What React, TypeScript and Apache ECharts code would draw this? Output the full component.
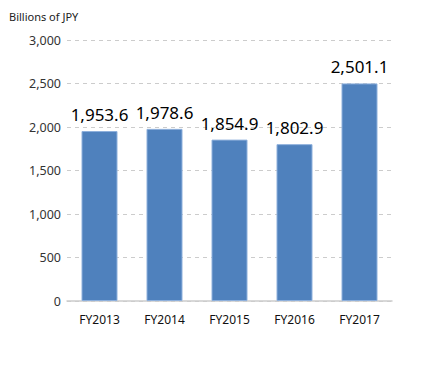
import React, { useEffect, useRef } from "react";
import * as echarts from "echarts";

const categories = ["FY2013", "FY2014", "FY2015", "FY2016", "FY2017"];
const values = [1953.6, 1978.6, 1854.9, 1802.9, 2501.1];
const unitLabel = "Billions of JPY";

const fmt = (v: number, d: number) =>
  v.toLocaleString("en-US", { minimumFractionDigits: d, maximumFractionDigits: d });

export default function App() {
  const ref = useRef<HTMLDivElement>(null);
  useEffect(() => {
    const chart = echarts.init(ref.current!, null, { renderer: "svg" });
    chart.setOption({
      animation: false,
      textStyle: { fontFamily: "Noto Sans" },
      graphic: [
        {
          type: "text",
          left: 9,
          top: 11,
          style: { text: unitLabel, fontSize: 11, fill: "#222", fontFamily: "Noto Sans" },
        },
      ],
      grid: { left: 67, right: 38, top: 40, bottom: 79 },
      xAxis: {
        type: "category",
        data: categories,
        axisLine: { lineStyle: { color: "#ccc", width: 1.5 } },
        axisTick: { show: false },
        axisLabel: { color: "#111", fontSize: 12, margin: 12 },
      },
      yAxis: {
        type: "value",
        min: 0,
        max: 3000,
        interval: 500,
        axisLine: { show: false },
        axisTick: { show: false },
        axisLabel: { color: "#333", fontSize: 12.5, margin: 6, formatter: (v: number) => fmt(v, 0) },
        splitLine: { lineStyle: { color: "#ccc", type: [4, 4] } },
      },
      series: [
        {
          type: "bar",
          data: values,
          barWidth: 36,
          itemStyle: { color: "#4f81bd", borderColor: "#8eb0dc", borderWidth: 1 },
          label: {
            show: true,
            position: "top",
            distance: 8,
            fontSize: 17,
            color: "#000",
            formatter: (p: any) => fmt(p.value, 1),
          },
        },
      ],
    });
    return () => chart.dispose();
  }, []);
  return (
    <div
      ref={ref}
      style={{ position: "absolute", left: 0, top: 0, width: 430, height: 380 }}
    />
  );
}
